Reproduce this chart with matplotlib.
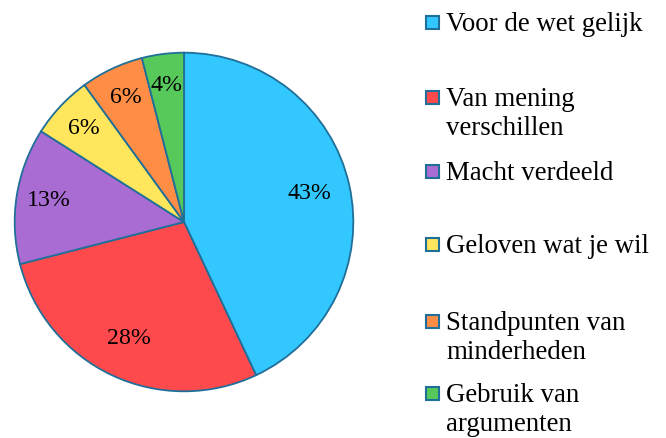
import matplotlib
matplotlib.use("Agg")
import matplotlib.pyplot as plt
from matplotlib.patches import Rectangle
import numpy as np

# Data
categories = ["Voor de wet gelijk", "Van mening\nverschillen", "Macht verdeeld",
              "Geloven wat je wil", "Standpunten van\nminderheden", "Gebruik van\nargumenten"]
shares = [43, 28, 13, 6, 6, 4]
colors = ["#33c7ff", "#ff4a4d", "#a86cd3", "#ffe65c", "#ff8d45", "#57c95b"]
edge = "#1f6f99"

# Layout (pixels on a 666x438 canvas)
W, H = 666, 438
legend_baselines = [31, 106, 180, 253, 330, 402]
line_step = 29

plt.rcParams['font.family'] = ['Liberation Serif', 'DejaVu Serif']

fig = plt.figure(figsize=(W / 100, H / 100), dpi=100)
cx, cy, r = 184, 222, 171
ax = fig.add_axes([(cx - r) / W, (H - cy - r) / H, 2 * r / W, 2 * r / H])

wedges, _, pcts = ax.pie(shares, colors=colors, startangle=90, counterclock=False,
                         autopct="%d%%", pctdistance=0.81,
                         wedgeprops=dict(edgecolor=edge, linewidth=1.3),
                         textprops=dict(fontsize=17.2, color="black"))
ax.set_xlim(-1.01, 1.01)
ax.set_ylim(-1.01, 1.01)
ax.set_aspect("equal")
ax.axis("off")

# the big slice sits its label a bit closer to the centre
for w, t in zip(wedges, pcts):
    if w.theta2 - w.theta1 > 100:
        mid = np.radians((w.theta1 + w.theta2) / 2)
        t.set_position((0.76 * np.cos(mid), 0.76 * np.sin(mid)))

# Legend drawn by hand to follow the uneven spacing
sq = 13
for label, col, base in zip(categories, colors, legend_baselines):
    yc = base - 9
    fig.add_artist(Rectangle((426 / W, (H - yc - sq / 2) / H), sq / W, sq / H,
                             transform=fig.transFigure, facecolor=col,
                             edgecolor=edge, linewidth=1.5))
    for i, line in enumerate(label.split("\n")):
        fig.text(446 / W, (H - base - i * line_step) / H, line, fontsize=19.4,
                 va="baseline", ha="left")

fig.savefig("out.png", dpi=100)
